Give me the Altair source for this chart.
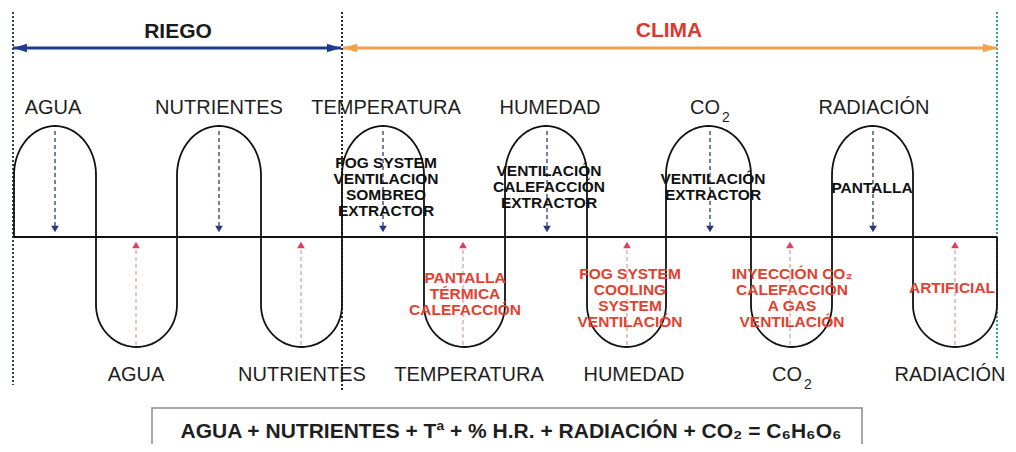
import altair as alt
import pandas as pd
import numpy as np

# ---- geometry / values (page pixel coordinates) ----
edges = [14, 96, 177, 261, 342, 424, 505, 587, 666, 751, 832, 913, 997]
base_y = 237
arch_shoulder, arch_top = 175, 126
loop_shoulder, loop_bottom = 305, 347

top_labels = ["AGUA", "NUTRIENTES", "TEMPERATURA", "HUMEDAD", "CO", "RADIACIÓN"]
top_label_x = [53, 219, 386, 550, 705, 874]
top_label_y = 108
bottom_labels = ["AGUA", "NUTRIENTES", "TEMPERATURA", "HUMEDAD", "CO", "RADIACIÓN"]
bottom_label_x = [136, 302, 469, 634, 787, 950]
bottom_label_y = 375
sub_x = [726, 808]
sub_y = [118, 385]

top_arrow_x = [55, 219, 383, 547, 710, 873]
bottom_arrow_x = [136, 301, 463, 627, 790, 955]

top_inner = [["FOG SYSTEM", "VENTILACION", "SOMBREO", "EXTRACTOR"],
             ["VENTILACIÓN", "CALEFACCIÓN", "EXTRACTOR"],
             ["VENTILACIÓN", "EXTRACTOR"],
             ["PANTALLA"]]
top_inner_x = [386, 549, 713, 872]
top_inner_y0 = [163, 171, 179, 188]

bottom_inner = [["PANTALLA", "TÉRMICA", "CALEFACCIÓN"],
                ["FOG SYSTEM", "COOLING", "SYSTEM", "VENTILACIÓN"],
                ["INYECCIÓN CO₂", "CALEFACCIÓN", "A GAS", "VENTILACIÓN"],
                ["ARTIFICIAL"]]
bottom_inner_x = [465, 630, 792, 952]
bottom_inner_y0 = [278, 274, 274, 288]
line_step = 16

section_titles = ["RIEGO", "CLIMA"]
section_title_x = [178, 669]
section_title_y = [32, 31]
section_colors = ["#1a1a1a", "#d93a2e"]
arrow_spans = [(13, 341), (343, 997)]
arrow_colors = ["#1f3c8c", "#f2a04a"]
arrow_y = 48

divider_x = [13, 342, 997]
divider_y2 = [385, 390, 360]
divider_colors = ["#2f4a45", "#2a2a2a", "#4a9a8a"]

equation = "AGUA + NUTRIENTES + Tª + % H.R. + RADIACIÓN + CO₂ = C₆H₆O₆"
box = (152, 862, 408, 470)

# ---- scales ----
W, H = 1000, 436
XD = [8, 8 + W]
YD = [8 + H, 8]


def X(f="x"):
    return alt.X(f"{f}:Q", scale=alt.Scale(domain=XD), axis=None)


def Y(f="y"):
    return alt.Y(f"{f}:Q", scale=alt.Scale(domain=YD), axis=None)


# ---- wave path ----
pts = []
for i in range(len(edges) - 1):
    a, b = edges[i], edges[i + 1]
    if i % 2 == 0:
        sh, ap = arch_shoulder, arch_top
    else:
        sh, ap = loop_shoulder, loop_bottom
    pts.append((a, base_y))
    pts.append((a, sh))
    cx, rx, ry = (a + b) / 2, (b - a) / 2, ap - sh
    for t in np.linspace(np.pi, 0, 41):
        pts.append((cx + rx * np.cos(t), sh + ry * np.sin(t)))
    pts.append((b, sh))
    pts.append((b, base_y))
wave = pd.DataFrame(pts, columns=["x", "y"])
wave["o"] = range(len(wave))

layers = []

# equation box (behind)
box_df = pd.DataFrame({"x": [box[0]], "x2": [box[1]], "y": [box[2]], "y2": [box[3]]})
layers.append(alt.Chart(box_df).mark_rect(fill="white", stroke="#8a8a8a", strokeWidth=1.5)
              .encode(x=X(), x2="x2:Q", y=Y(), y2="y2:Q"))

# dotted dividers
div_df = pd.DataFrame({"x": divider_x, "y": [12] * 3, "y2": divider_y2, "c": divider_colors})
layers.append(alt.Chart(div_df).mark_rule(strokeWidth=2, strokeDash=[2, 2])
              .encode(x=X(), y=Y(), y2="y2:Q", color=alt.Color("c:N", scale=None)))

# section arrows
arr_df = pd.DataFrame({"x": [s[0] for s in arrow_spans], "x2": [s[1] for s in arrow_spans],
                       "y": [arrow_y] * 2, "c": arrow_colors})
layers.append(alt.Chart(arr_df).mark_rule(strokeWidth=3)
              .encode(x=X(), x2="x2:Q", y=Y(), color=alt.Color("c:N", scale=None)))
head_size = 196
r = np.sqrt(head_size) / 2
left_heads = pd.DataFrame({"x": [s[0] + r for s in arrow_spans], "y": [arrow_y] * 2, "c": arrow_colors})
right_heads = pd.DataFrame({"x": [s[1] - r for s in arrow_spans], "y": [arrow_y] * 2, "c": arrow_colors})
layers.append(alt.Chart(left_heads).mark_point(shape="M -1 0 L 1 -0.62 L 1 0.62 Z", size=head_size,
                                               filled=True, opacity=1)
              .encode(x=X(), y=Y(), color=alt.Color("c:N", scale=None)))
layers.append(alt.Chart(right_heads).mark_point(shape="M 1 0 L -1 -0.62 L -1 0.62 Z", size=head_size,
                                                filled=True, opacity=1)
              .encode(x=X(), y=Y(), color=alt.Color("c:N", scale=None)))

# dashed arrows inside the loops
tda = pd.DataFrame({"x": top_arrow_x, "y": [131] * 6, "y2": [226] * 6})
layers.append(alt.Chart(tda).mark_rule(color="#2b3a7c", strokeWidth=1.3, strokeDash=[4, 3])
              .encode(x=X(), y=Y(), y2="y2:Q"))
layers.append(alt.Chart(pd.DataFrame({"x": top_arrow_x, "y": [229] * 6}))
              .mark_point(shape="triangle-down", size=60, filled=True, opacity=1, color="#2b3a7c")
              .encode(x=X(), y=Y()))
bda = pd.DataFrame({"x": bottom_arrow_x, "y": [345] * 6, "y2": [249] * 6})
layers.append(alt.Chart(bda).mark_rule(color="#d9a6ab", strokeWidth=1.3, strokeDash=[4, 3])
              .encode(x=X(), y=Y(), y2="y2:Q"))
layers.append(alt.Chart(pd.DataFrame({"x": bottom_arrow_x, "y": [245] * 6}))
              .mark_point(shape="triangle-up", size=60, filled=True, opacity=1, color="#e0405a")
              .encode(x=X(), y=Y()))

# wave and baseline
layers.append(alt.Chart(wave).mark_line(color="#111111", strokeWidth=1.8)
              .encode(x=X(), y=Y(), order="o:Q"))
layers.append(alt.Chart(pd.DataFrame({"x": [edges[0] - 1], "x2": [edges[-1]], "y": [base_y]}))
              .mark_rule(color="#111111", strokeWidth=1.8)
              .encode(x=X(), x2="x2:Q", y=Y()))

# section titles
st = pd.DataFrame({"x": section_title_x, "y": section_title_y, "t": section_titles, "c": section_colors})
layers.append(alt.Chart(st).mark_text(font="Liberation Sans", fontWeight="bold", fontSize=21,
                                      baseline="middle", align="center")
              .encode(x=X(), y=Y(), text="t:N", color=alt.Color("c:N", scale=None)))

# factor labels
lab = pd.DataFrame({"x": top_label_x + bottom_label_x,
                    "y": [top_label_y] * 6 + [bottom_label_y] * 6,
                    "t": top_labels + bottom_labels})
layers.append(alt.Chart(lab).mark_text(font="Liberation Sans", fontSize=20, color="#1e1e1e",
                                       baseline="middle", align="center")
              .encode(x=X(), y=Y(), text="t:N"))
sub = pd.DataFrame({"x": sub_x, "y": sub_y, "t": ["2", "2"]})
layers.append(alt.Chart(sub).mark_text(font="Liberation Sans", fontSize=14, color="#1e1e1e",
                                       baseline="middle", align="center")
              .encode(x=X(), y=Y(), text="t:N"))

# inner texts
rows = []
for lines, x0, y0 in zip(top_inner, top_inner_x, top_inner_y0):
    for k, s in enumerate(lines):
        rows.append({"x": x0, "y": y0 + k * line_step, "t": s})
layers.append(alt.Chart(pd.DataFrame(rows)).mark_text(font="Liberation Sans", fontWeight="bold",
                                                      fontSize=15.5, color="#111111",
                                                      baseline="middle", align="center")
              .encode(x=X(), y=Y(), text="t:N"))
rows = []
for lines, x0, y0 in zip(bottom_inner, bottom_inner_x, bottom_inner_y0):
    for k, s in enumerate(lines):
        rows.append({"x": x0, "y": y0 + k * line_step, "t": s})
layers.append(alt.Chart(pd.DataFrame(rows)).mark_text(font="Liberation Sans", fontWeight="bold",
                                                      fontSize=15.5, color="#e2412f",
                                                      baseline="middle", align="center")
              .encode(x=X(), y=Y(), text="t:N"))

# equation
layers.append(alt.Chart(pd.DataFrame({"x": [511], "y": [432], "t": [equation]}))
              .mark_text(font="Liberation Sans", fontWeight="bold", fontSize=21, color="#1e1e1e",
                         baseline="middle", align="center")
              .encode(x=X(), y=Y(), text="t:N"))

chart = alt.layer(*layers).properties(width=W, height=H, padding=0, autosize="none",
                                      background="white").configure_view(stroke=None)

chart.save("out.html", embed_options={"renderer": "svg", "actions": False})
